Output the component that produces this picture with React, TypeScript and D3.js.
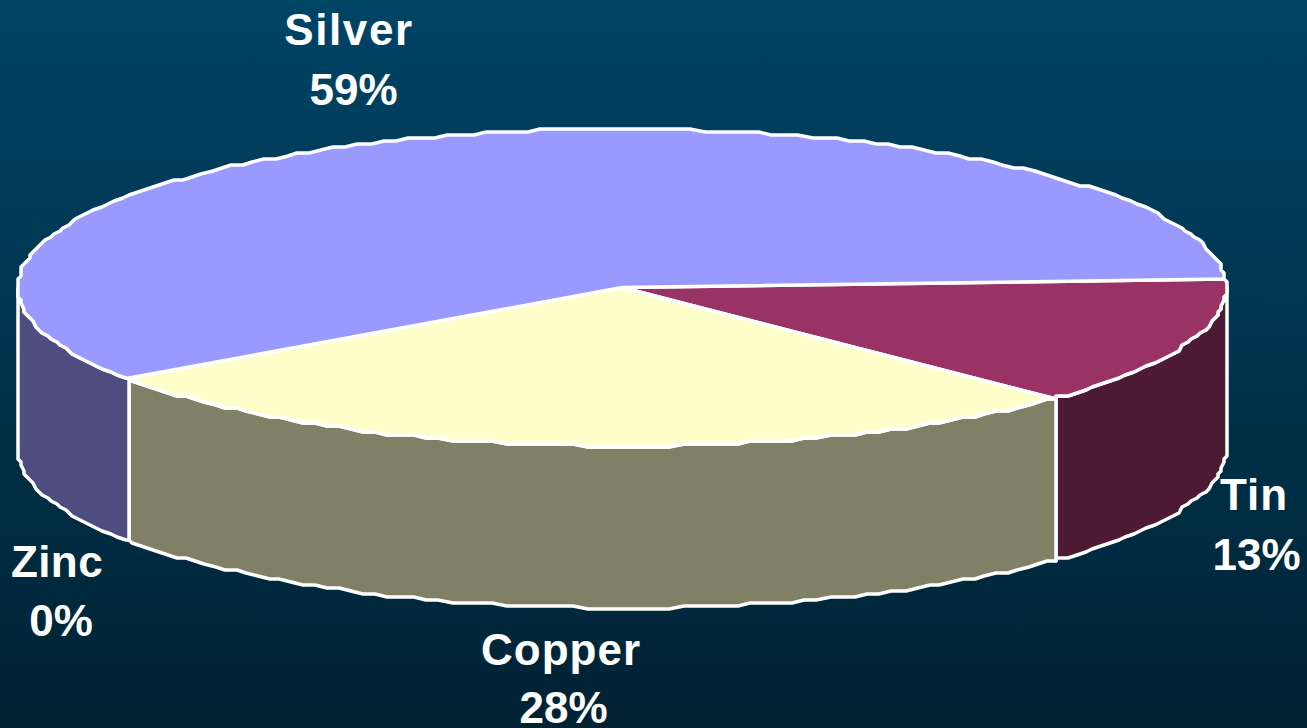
import * as d3 from "d3";

// Shares of metal content, in percent, in the order they run clockwise around the pie.
const metals = ["Tin", "Copper", "Zinc", "Silver"];
const shares = [13, 28, 0, 59];
const topColors = ["#993366", "#FFFFCC", "#FF0000", "#9999FF"];
const wallColors = ["#4D1A33", "#808066", "#800000", "#4D4D80"];

const WIDTH = 1307;
const HEIGHT = 728;
const CX = 622;
const CY = 287.5;
const RX = 604;
const RY = 158.5;
const DEPTH = 162;
const START_DEG = 87.3; // clockwise from twelve o'clock
const SNAP = 3; // the rim is drawn on a coarse raster, which gives it a stepped look
const STEP = (1.3 * Math.PI) / 180;

// Placement of the two-line label attached to each metal.
const labelPositions: Record<string, { x1: number; x2: number; y1: number; y2: number; track: number }> = {
  Tin: { x1: 1254, x2: 1256.5, y1: 510, y2: 570, track: 1 },
  Copper: { x1: 561, x2: 563.5, y1: 665, y2: 723, track: 1 },
  Zinc: { x1: 57, x2: 61, y1: 577, y2: 636, track: 0.4 },
  Silver: { x1: 349, x2: 353.5, y1: 45, y2: 105, track: 1.6 },
};

const snap = (v: number) => Math.round(v / SNAP) * SNAP;
const rimX = (a: number) => snap(CX + RX * Math.sin(a));
const rimY = (a: number) => snap(CY - RY * Math.cos(a));

// Sample the rim between two angles on a shared angular grid, so neighbouring slices agree.
function rim(a0: number, a1: number): [number, number][] {
  const inner = d3.range(Math.ceil(a0 / STEP), Math.floor(a1 / STEP) + 1).map((i) => i * STEP);
  return [a0, ...inner, a1].map((a) => [rimX(a), rimY(a)] as [number, number]);
}

const linePath = d3.line<[number, number]>();

const pieGen = d3
  .pie<number>()
  .sort(null)
  .startAngle((START_DEG * Math.PI) / 180)
  .endAngle((START_DEG * Math.PI) / 180 + 2 * Math.PI);

const slices = pieGen(shares);

// Outer wall of a slice, limited to the part that faces the viewer (90deg to 270deg).
function wallPath(a0: number, a1: number): string | null {
  const lo = Math.PI / 2;
  const hi = (3 * Math.PI) / 2;
  const s = Math.max(a0, lo);
  const e = Math.min(a1, hi);
  if (e <= s) return null;
  const upper = rim(s, e);
  const lower = upper.map(([x, y]) => [x, y + DEPTH] as [number, number]).reverse();
  return linePath([...upper, ...lower])! + "Z";
}

function topPath(a0: number, a1: number): string {
  return linePath([[CX, CY], ...rim(a0, a1)])! + "Z";
}

export default function App() {
  return (
    <svg
      width={WIDTH}
      height={HEIGHT}
      viewBox={`0 0 ${WIDTH} ${HEIGHT}`}
      style={{ position: "absolute", left: 0, top: 0, display: "block" }}
    >
      <defs>
        <linearGradient id="backdrop" x1="0" y1="0" x2="0" y2="1">
          <stop offset="0" stopColor="#004466" />
          <stop offset="1" stopColor="#002233" />
        </linearGradient>
      </defs>
      <rect width={WIDTH} height={HEIGHT} fill="url(#backdrop)" />

      <g stroke="#FFFFFF" strokeWidth={3.5} strokeLinejoin="round">
        {slices.map((s, i) => {
          const d = wallPath(s.startAngle, s.endAngle);
          return d && s.value > 0 ? <path key={metals[i]} d={d} fill={wallColors[i]} /> : null;
        })}
        {slices.map((s, i) =>
          s.value > 0 ? (
            <path key={metals[i]} d={topPath(s.startAngle, s.endAngle)} fill={topColors[i]} />
          ) : null,
        )}
      </g>

      <g
        fill="#FFFFFF"
        fontFamily="'Liberation Sans', Arial, sans-serif"
        fontWeight={700}
        fontSize={44}
        textAnchor="middle"
      >
        {metals.map((name, i) => {
          const p = labelPositions[name];
          return (
            <g key={name}>
              <text x={p.x1} y={p.y1} letterSpacing={p.track}>
                {name}
              </text>
              <text x={p.x2} y={p.y2}>
                {shares[i]}%
              </text>
            </g>
          );
        })}
      </g>
    </svg>
  );
}
